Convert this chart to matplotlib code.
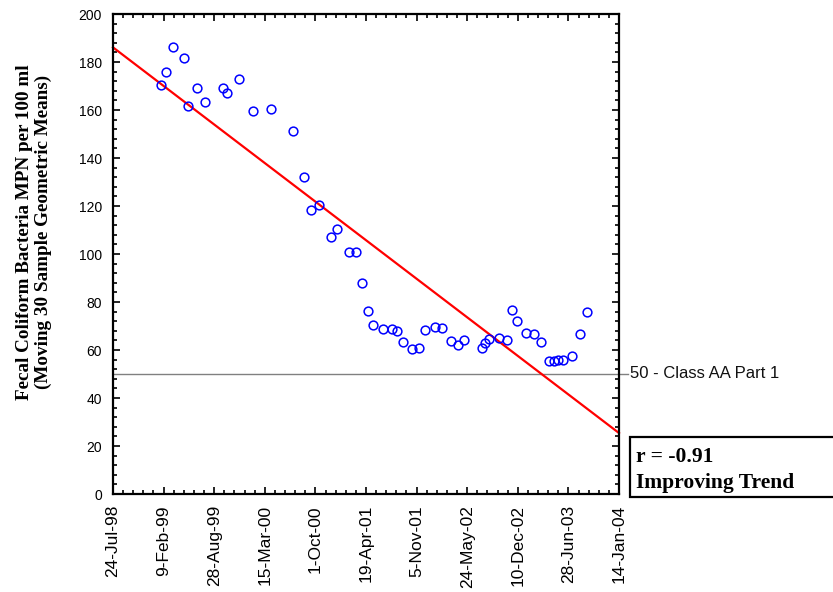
import numpy as np
import matplotlib
matplotlib.use('Agg')
import matplotlib.pyplot as plt
import matplotlib.dates as mdates
import matplotlib.transforms as mtransforms
from matplotlib.ticker import FixedLocator, MultipleLocator
from matplotlib.patches import Rectangle

# ---------------- data ----------------
sample_dates = [
    '1999-01-30', '1999-02-19', '1999-03-19', '1999-05-01', '1999-05-16',
    '1999-06-22', '1999-07-23', '1999-10-01', '1999-10-18', '1999-12-05',
    '2000-01-27', '2000-04-07', '2000-07-05', '2000-08-15', '2000-09-14',
    '2000-10-14', '2000-12-01', '2000-12-25', '2001-02-10', '2001-03-11',
    '2001-04-03', '2001-04-27', '2001-05-17', '2001-06-25', '2001-07-31',
    '2001-08-18', '2001-09-12', '2001-10-17', '2001-11-16', '2001-12-08',
    '2002-01-17', '2002-02-12', '2002-03-20', '2002-04-19', '2002-05-12',
    '2002-07-22', '2002-08-02', '2002-08-19', '2002-09-28', '2002-10-27',
    '2002-11-16', '2002-12-06', '2003-01-10', '2003-02-14', '2003-03-10',
    '2003-04-14', '2003-05-02', '2003-05-18', '2003-06-08', '2003-07-13',
    '2003-08-11', '2003-09-10',
]
geo_means = [
    170.4, 176.0, 186.1, 181.7, 161.5,
    169.0, 163.5, 169.2, 167.2, 172.9,
    159.7, 160.4, 151.1, 132.2, 118.3,
    120.4, 107.2, 110.3, 101.0, 101.0,
    87.8, 76.4, 70.3, 68.9, 68.6,
    67.8, 63.3, 60.3, 61.0, 68.3,
    69.7, 69.0, 63.9, 62.1, 64.0,
    60.9, 63.0, 64.6, 64.9, 64.2,
    76.6, 72.2, 67.1, 66.5, 63.4,
    55.3, 55.5, 55.7, 55.8, 57.7,
    66.5, 75.7,
]
trend_dates = ['1998-07-24', '2004-01-14']
trend_values = [186.1, 25.4]
standard_value = 50
standard_label = '50 - Class AA Part 1'
tick_dates = ['1998-07-24', '1999-02-09', '1999-08-28', '2000-03-15',
              '2000-10-01', '2001-04-19', '2001-11-05', '2002-05-24',
              '2002-12-10', '2003-06-28', '2004-01-14']
tick_labels = ['24-Jul-98', '9-Feb-99', '28-Aug-99', '15-Mar-00', '1-Oct-00',
               '19-Apr-01', '5-Nov-01', '24-May-02', '10-Dec-02', '28-Jun-03',
               '14-Jan-04']
y_ticks = [0, 20, 40, 60, 80, 100, 120, 140, 160, 180, 200]
ylabel_text = 'Fecal Coliform Bacteria MPN per 100 ml\n(Moving 30 Sample Geometric Means)'
r_text = 'r = -0.91'
trend_text = 'Improving Trend'

# ---------------- figure ----------------
W, H = 833, 592
fig = plt.figure(figsize=(W / 100, H / 100), dpi=100)
sans = ['Liberation Sans', 'DejaVu Sans']
serif = ['Liberation Serif', 'DejaVu Serif']

ax = fig.add_axes([113 / W, 1 - 494 / H, (619 - 113) / W, (494 - 14) / H])

x = mdates.date2num(np.array(sample_dates, dtype='datetime64[D]'))
tx = mdates.date2num(np.array(trend_dates, dtype='datetime64[D]'))
xt = mdates.date2num(np.array(tick_dates, dtype='datetime64[D]'))

ax.axhline(standard_value, xmin=0, xmax=1.018, clip_on=False,
           color='#808080', lw=1.0, zorder=1)
ax.plot(tx, trend_values, color='#FF0000', lw=1.6, zorder=2, clip_on=False)
ax.plot(x, geo_means, linestyle='none', marker='o', markersize=6.3,
        markerfacecolor='none', markeredgecolor='#0000FF',
        markeredgewidth=1.1, zorder=3)

ax.set_xlim(xt[0], xt[-1])
ax.set_ylim(y_ticks[0], y_ticks[-1])

ax.xaxis.set_major_locator(FixedLocator(xt))
ax.xaxis.set_minor_locator(FixedLocator(np.arange(xt[0], xt[-1] + 1, 40)))
ax.set_xticklabels(tick_labels, rotation=90, fontsize=12.5, family=sans)
ax.set_yticks(y_ticks)
ax.set_yticklabels([str(v) for v in y_ticks], fontsize=10, family=sans)
ax.yaxis.set_minor_locator(MultipleLocator(4))

ax.tick_params(which='both', direction='in', top=True, right=True,
               color='black', width=1.2)
ax.tick_params(which='major', length=5)
ax.tick_params(which='minor', length=3)
ax.tick_params(axis='x', which='major', pad=8)
ax.tick_params(axis='y', which='major', pad=8)

for s in ax.spines.values():
    s.set_linewidth(1.6)
    s.set_color('black')

blend = mtransforms.blended_transform_factory(ax.transAxes, ax.transData)
ax.text(1.022, standard_value, standard_label, transform=blend,
        va='center', ha='left', fontsize=12, family=sans, color='#111111')

fig.text(34 / W, 1 - 232 / H, ylabel_text, rotation=90, ha='center',
         va='center', multialignment='center', fontsize=13.8,
         fontweight='bold', family=serif, linespacing=1.12)

fig.patches.append(Rectangle((630 / W, 1 - 497 / H), (845 - 630) / W, 60 / H,
                             transform=fig.transFigure, facecolor='white',
                             edgecolor='black', lw=1.6))
fig.text(636 / W, 1 - 462 / H, r_text, fontsize=15.5, fontweight='bold',
         family=serif, va='baseline', ha='left')
fig.text(636 / W, 1 - 488 / H, trend_text, fontsize=15.5, fontweight='bold',
         family=serif, va='baseline', ha='left')

fig.savefig('out.png', dpi=100, facecolor='white')
